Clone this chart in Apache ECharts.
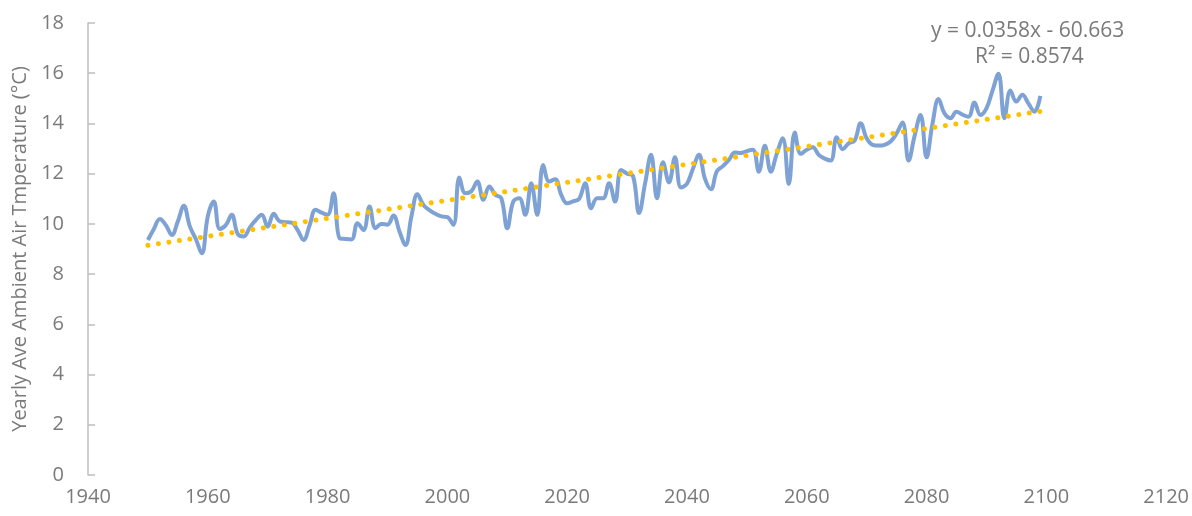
<!DOCTYPE html>
<html>
<head>
<meta charset="utf-8">
<script src="https://cdn.jsdelivr.net/npm/echarts@6/dist/echarts.min.js"></script>
<style>
  html, body { margin: 0; padding: 0; background: #fff; }
  #chart { width: 1192px; height: 516px; }
</style>
</head>
<body>
<div id="chart"></div>
<script>
const firstYear = 1950;
// yearly average ambient air temperature, 1950..2099
const temps = [
  9.36, 9.8, 10.19, 9.95, 9.56, 10.1, 10.72, 9.9, 9.4, 8.83,
  10.3, 10.89, 9.8, 9.95, 10.36, 9.6, 9.5, 9.85, 10.15, 10.36,
  9.89, 10.4, 10.1, 10.07, 10.05, 9.75, 9.36, 9.95, 10.56, 10.45,
  10.36, 11.22, 9.43, 9.4, 9.38, 10.03, 9.76, 10.69, 9.83, 10.0,
  9.97, 10.33, 9.7, 9.16, 10.3, 11.18, 10.75, 10.55, 10.4, 10.3,
  10.27, 9.96, 11.85, 11.22, 11.3, 11.69, 10.96, 11.49, 11.16, 11.02,
  9.83, 10.89, 11.02, 10.36, 11.62, 10.36, 12.35, 11.69, 11.78, 11.16,
  10.82, 10.9, 11.0, 11.62, 10.62, 11.02, 11.02, 11.62, 10.89, 12.15,
  12.0, 11.9, 10.43, 11.6, 12.75, 11.02, 12.45, 11.65, 12.65, 11.45,
  11.6, 12.2, 12.75, 11.8, 11.38, 12.1, 12.3, 12.55, 12.84, 12.82,
  12.9, 12.95, 12.08, 13.11, 12.08, 12.8, 13.41, 11.59, 13.64, 12.79,
  12.95, 13.05, 12.75, 12.6, 12.52, 13.45, 12.97, 13.21, 13.32, 14.01,
  13.41, 13.15, 13.12, 13.15, 13.28, 13.6, 14.04, 12.52, 13.5, 14.34,
  12.65, 14.0, 14.97, 14.4, 14.21, 14.47, 14.35, 14.27, 14.83, 14.34,
  14.6, 15.3, 15.98, 14.21, 15.31, 14.87, 15.14, 14.8, 14.47, 15.1
];

// linear trendline as printed on the chart
const trendSlope = 0.0358;
const trendIntercept = -60.663;
const trendLabel = 'y = 0.0358x - 60.663';
const r2Label = 'R\u00B2 = 0.8574';

const yTitle = 'Yearly Ave Ambient Air Tmperature (\u00B0C)';

const tempData = temps.map((v, i) => [firstYear + i, v]);
const lastYear = firstYear + temps.length - 1;
const trendData = [firstYear, lastYear].map(x => [x, +(trendSlope * x + trendIntercept).toFixed(3)]);

const textColor = '#7a7a7a';
const font = "'Open Sans', sans-serif";

const myChart = echarts.init(document.getElementById('chart'));

myChart.setOption({
  animation: false,
  grid: {
    left: 88,
    right: 20,
    top: 23,
    bottom: 41
  },
  xAxis: {
    type: 'value',
    min: 1940,
    max: 2120,
    interval: 20,
    axisLine: { show: false },
    axisTick: { show: false },
    splitLine: { show: false },
    axisLabel: {
      color: textColor,
      fontSize: 20,
      fontFamily: font,
      margin: 12,
      showMinLabel: true,
      showMaxLabel: true,
      formatter: v => String(v)
    }
  },
  yAxis: {
    type: 'value',
    min: 0,
    max: 18,
    interval: 2,
    name: yTitle,
    nameLocation: 'middle',
    nameGap: 52,
    nameTextStyle: {
      color: textColor,
      fontSize: 20,
      fontFamily: font
    },
    axisLine: {
      show: true,
      lineStyle: { color: '#bfbfbf', width: 1.5 }
    },
    axisTick: {
      show: true,
      inside: true,
      length: 7,
      lineStyle: { color: '#bfbfbf', width: 1.5 }
    },
    splitLine: { show: false },
    axisLabel: {
      color: textColor,
      fontSize: 20,
      fontFamily: font,
      margin: 24
    }
  },
  graphic: [
    {
      type: 'text',
      left: 931,
      top: 21,
      style: {
        text: trendLabel,
        fill: textColor,
        font: "21px 'Open Sans', sans-serif"
      }
    },
    {
      type: 'text',
      left: 975,
      top: 47,
      style: {
        text: r2Label,
        fill: textColor,
        font: "21px 'Open Sans', sans-serif"
      }
    }
  ],
  series: [
    {
      name: 'temperature',
      type: 'line',
      data: tempData,
      smooth: 0.4,
      showSymbol: false,
      lineStyle: {
        color: '#7ea2d3',
        width: 4
      },
      z: 2
    },
    {
      name: 'trend',
      type: 'line',
      data: trendData,
      showSymbol: false,
      lineStyle: {
        color: '#ffc000',
        width: 5,
        type: [0.01, 10.6],
        cap: 'round'
      },
      z: 3
    }
  ]
});
</script>
</body>
</html>
